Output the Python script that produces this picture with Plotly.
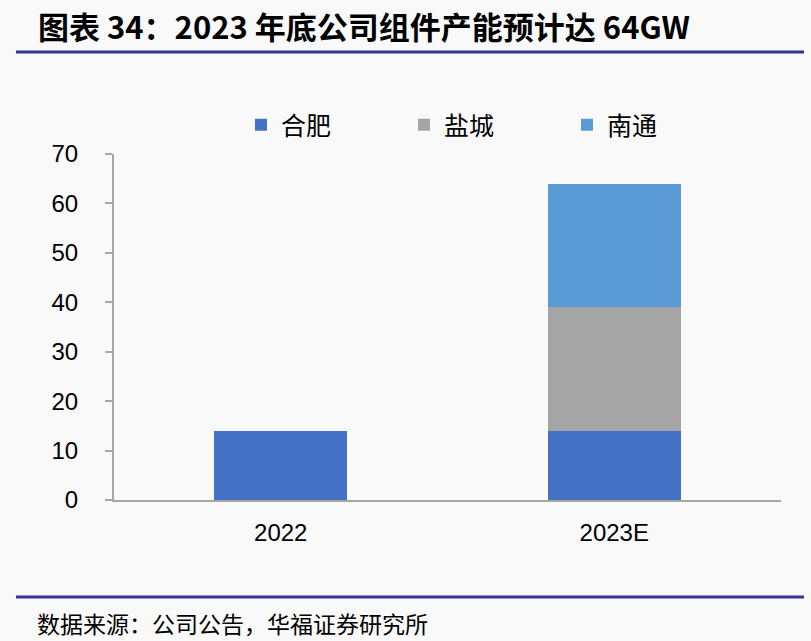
import plotly.graph_objects as go

# data
years = ["2022", "2023E"]
hefei = [14, 14]
yancheng = [0, 25]
nantong = [0, 25]

series_names = ["合肥", "盐城", "南通"]
series_colors = ["#4472C4", "#A5A5A5", "#5B9BD5"]

y_ticks = [0, 10, 20, 30, 40, 50, 60, 70]

title_text = "图表 34：2023 年底公司组件产能预计达 64GW"
source_text = "数据来源：公司公告，华福证券研究所"

W, H = 811, 641
L, R, T, B = 114, 30, 154, 141
pw = W - L - R
ph = H - T - B


def px(x):
    return (x - L) / pw


def py(y):
    return (H - B - y) / ph


fig = go.Figure()
for name, vals, col in zip(series_names, [hefei, yancheng, nantong], series_colors):
    fig.add_trace(go.Bar(name=name, x=years, y=vals, marker_color=col,
                         marker_line_width=0, width=0.4))

fig.update_layout(
    width=W, height=H,
    margin=dict(l=L, r=R, t=T, b=B),
    barmode="stack",
    paper_bgcolor="#f9f9f9",
    plot_bgcolor="#f9f9f9",
    font=dict(family="Liberation Sans, Arial", size=24, color="#000000"),
    showlegend=True,
    legend=dict(orientation="h", x=px(241), y=py(125), xanchor="left", yanchor="middle",
                entrywidth=118, entrywidthmode="pixels", itemwidth=30,
                font=dict(family="Noto Sans CJK SC", size=25),
                bgcolor="rgba(0,0,0,0)", traceorder="normal"),
    xaxis=dict(showline=True, linecolor="#a6a6a6", linewidth=2, ticks="",
               showgrid=False, zeroline=False, ticklabelstandoff=10),
    yaxis=dict(range=[0, 70], tickvals=y_ticks, showline=True, linecolor="#a6a6a6",
               linewidth=2, ticks="outside", ticklen=7, tickcolor="#a6a6a6", tickwidth=2,
               showgrid=False, zeroline=False, ticklabelstandoff=22),
)

# title, rules and source
fig.add_annotation(text="<b>" + title_text + "</b>", xref="paper", yref="paper",
                   x=px(36), y=py(25), xanchor="left", yanchor="middle", showarrow=False,
                   font=dict(family="Noto Sans CJK SC", size=31, color="#000000"))
fig.add_annotation(text=source_text, xref="paper", yref="paper",
                   x=px(35), y=py(623), xanchor="left", yanchor="middle", showarrow=False,
                   font=dict(family="Noto Sans CJK SC", size=23, color="#000000"))
for yy in [52, 597]:
    fig.add_shape(type="line", xref="paper", yref="paper", x0=px(16), x1=px(804),
                  y0=py(yy), y1=py(yy), line=dict(color="#333399", width=3))

fig.write_html("out.html", config={"displayModeBar": False},
               post_script="document.body.style.margin='0';")
